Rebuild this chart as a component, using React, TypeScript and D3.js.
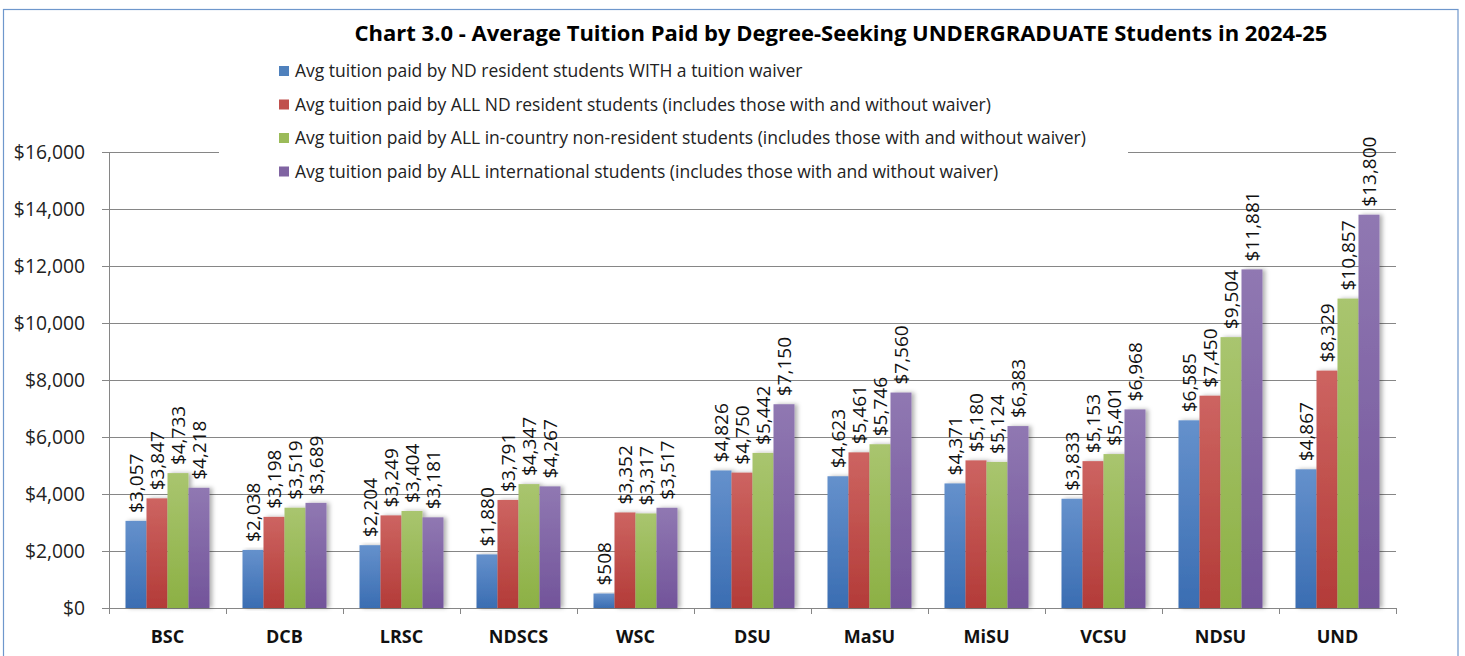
import React, { useEffect, useRef } from "react";
import * as d3 from "d3";

const categories = ["BSC", "DCB", "LRSC", "NDSCS", "WSC", "DSU", "MaSU", "MiSU", "VCSU", "NDSU", "UND"];
const seriesNames = [
  "Avg tuition paid by ND resident students WITH a tuition waiver",
  "Avg tuition paid by ALL ND resident students (includes those with and without waiver)",
  "Avg tuition paid by ALL in-country non-resident students (includes those with and without waiver)",
  "Avg tuition paid by ALL international students (includes those with and without waiver)",
];
const waiverResident = [3057, 2038, 2204, 1880, 508, 4826, 4623, 4371, 3833, 6585, 4867];
const allResident = [3847, 3198, 3249, 3791, 3352, 4750, 5461, 5180, 5153, 7450, 8329];
const nonResident = [4733, 3519, 3404, 4347, 3317, 5442, 5746, 5124, 5401, 9504, 10857];
const international = [4218, 3689, 3181, 4267, 3517, 7150, 7560, 6383, 6968, 11881, 13800];
const yTicks = [0, 2000, 4000, 6000, 8000, 10000, 12000, 14000, 16000];
const title = "Chart 3.0 - Average Tuition Paid by Degree-Seeking UNDERGRADUATE Students in 2024-25";

const seriesValues = [waiverResident, allResident, nonResident, international];
const colors = [
  { base: "#4F81BD", top: "#6591CC", bottom: "#3A6DB2" },
  { base: "#C0504D", top: "#CD6461", bottom: "#B33B38" },
  { base: "#9BBB59", top: "#A9C56F", bottom: "#8CB044" },
  { base: "#8064A2", top: "#9078B2", bottom: "#72549A" },
];

const W = 1465;
const H = 656;
const FONT = "'Open Sans', 'Noto Sans', sans-serif";

export default function App() {
  const ref = useRef<SVGSVGElement | null>(null);

  useEffect(() => {
    const svg = d3.select(ref.current);
    svg.selectAll("*").remove();

    const defs = svg.append("defs");
    colors.forEach((c, i) => {
      const g = defs.append("linearGradient").attr("id", `grad${i}`).attr("x1", 0).attr("y1", 0).attr("x2", 0).attr("y2", 1);
      g.append("stop").attr("offset", "0%").attr("stop-color", c.top);
      g.append("stop").attr("offset", "100%").attr("stop-color", c.bottom);
    });
    const f = defs.append("filter").attr("id", "shadow").attr("x", "-20%").attr("y", "-5%").attr("width", "160%").attr("height", "110%");
    f.append("feDropShadow").attr("dx", 3).attr("dy", 0).attr("stdDeviation", 2).attr("flood-color", "#000").attr("flood-opacity", 0.3);

    svg.append("rect").attr("x", 0).attr("y", 0).attr("width", W).attr("height", H).attr("fill", "#fff");
    svg.append("rect").attr("x", 3.5).attr("y", 9.5).attr("width", 1454.5).attr("height", 660)
      .attr("fill", "#fff").attr("stroke", "#6E97CC").attr("stroke-width", 1.2);

    const left = 109, right = 1396, top = 152, bottom = 608;
    const y = d3.scaleLinear().domain([0, 16000]).range([bottom, top]);
    const x = d3.scaleBand<string>().domain(categories).range([left, right]).paddingInner(0).paddingOuter(0);
    const xs = d3.scaleBand<number>().domain([0, 1, 2, 3]).range([0, x.bandwidth()]).paddingInner(0).paddingOuter(0.786);

    // gridlines
    svg.append("g").selectAll("line").data(yTicks).join("line")
      .attr("x1", left - 7).attr("x2", right).attr("y1", (d) => Math.round(y(d)) + 0.5).attr("y2", (d) => Math.round(y(d)) + 0.5)
      .attr("stroke", "#868686").attr("stroke-width", 1);
    // y axis line
    svg.append("line").attr("x1", left + 0.5).attr("x2", left + 0.5).attr("y1", top).attr("y2", bottom + 0.5)
      .attr("stroke", "#868686");
    // x ticks
    const bounds = categories.map((c) => x(c)!).concat([right]);
    svg.append("g").selectAll("line").data(bounds).join("line")
      .attr("x1", (d) => Math.round(d) + 0.5).attr("x2", (d) => Math.round(d) + 0.5)
      .attr("y1", bottom).attr("y2", bottom + 6).attr("stroke", "#868686");

    // y labels
    svg.append("g").selectAll("text").data(yTicks).join("text")
      .attr("x", 85).attr("y", (d) => y(d)).attr("dy", "0.35em").attr("text-anchor", "end")
      .attr("font-family", FONT).attr("font-size", 19.3).attr("fill", "#222")
      .text((d) => d3.format("$,")(d));

    // x labels
    svg.append("g").selectAll("text").data(categories).join("text")
      .attr("x", (d) => x(d)! + x.bandwidth() / 2).attr("y", 637).attr("dy", "0.35em").attr("text-anchor", "middle")
      .attr("font-family", FONT).attr("font-size", 18).attr("font-weight", "bold").attr("fill", "#111")
      .text((d) => d);

    // bars
    const barData = categories.flatMap((c, ci) => seriesValues.map((vals, si) => ({ c, si, v: vals[ci] })));
    svg.append("g").selectAll("rect").data(barData).join("rect")
      .attr("x", (d) => x(d.c)! + xs(d.si)!)
      .attr("width", xs.bandwidth())
      .attr("y", (d) => y(d.v))
      .attr("height", (d) => bottom - y(d.v))
      .attr("fill", (d) => `url(#grad${d.si})`)
      .attr("filter", "url(#shadow)");

    // data labels
    svg.append("g").selectAll("text").data(barData).join("text")
      .attr("transform", (d) => `translate(${x(d.c)! + xs(d.si)! + xs.bandwidth() / 2},${y(d.v) - 8}) rotate(-90)`)
      .attr("dy", "0.35em")
      .attr("font-family", FONT).attr("font-size", 19).attr("fill", "#111")
      .text((d) => d3.format("$,")(d.v));

    // legend
    const lg = svg.append("g");
    lg.append("rect").attr("x", 219).attr("y", 54).attr("width", 909).attr("height", 134).attr("fill", "#fff");
    const rowY = [71, 104.5, 138, 171.5];
    seriesNames.forEach((name, i) => {
      lg.append("rect").attr("x", 279).attr("y", rowY[i] - 5).attr("width", 10).attr("height", 10).attr("fill", colors[i].base);
      lg.append("text").attr("x", 295).attr("y", rowY[i]).attr("dy", "0.35em")
        .attr("font-family", FONT).attr("font-size", 17.5).attr("fill", "#222").text(name);
    });

    // title
    svg.append("text").attr("x", 841).attr("y", 33).attr("dy", "0.35em").attr("text-anchor", "middle")
      .attr("font-family", FONT).attr("font-size", 22).attr("font-weight", "bold").attr("fill", "#000")
      .text(title);
  }, []);

  return (
    <svg ref={ref} width={W} height={H} style={{ position: "absolute", left: 0, top: 0, display: "block" }} />
  );
}
